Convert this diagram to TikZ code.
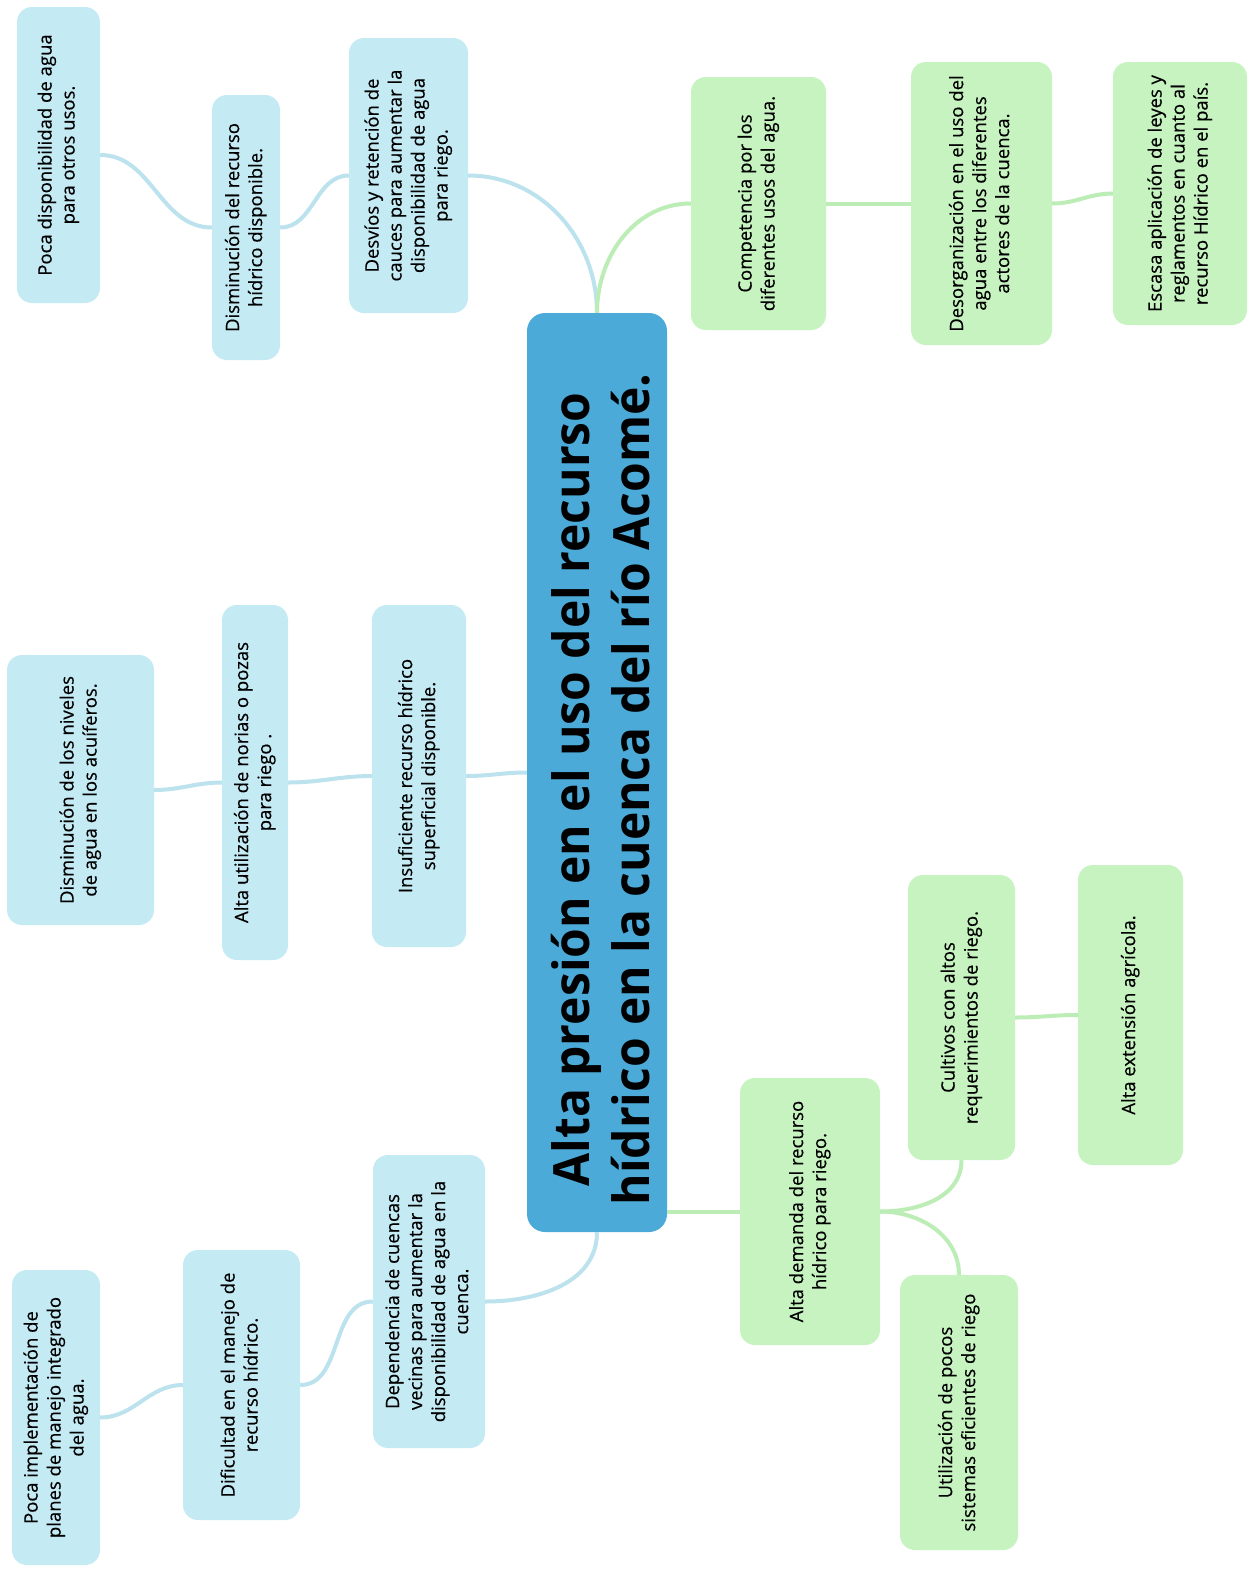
\documentclass[tikz,border=0pt]{standalone}
\usepackage{fontspec}
\setmainfont{Open Sans}
\newfontfamily\boxfont[FakeBold=0.4]{Open Sans}
\newfontfamily\titlefont[FakeStretch=0.96]{Open Sans}

\definecolor{boxblue}{HTML}{C4EAF4}
\definecolor{boxgreen}{HTML}{C6F3C0}
\definecolor{lineblue}{HTML}{BCE2EE}
\definecolor{linegreen}{HTML}{BDEDB6}
\definecolor{mainblue}{HTML}{4BAAD7}

\newcommand{\vtext}[1]{\rotatebox{90}{\begin{tabular}{@{}c@{}}#1\end{tabular}}}

\tikzset{
  boxsize/.style 2 args = {minimum width = #1pt, minimum height = #2pt},
  cause/.style  = {rounded corners = 15pt, inner sep = 0pt, fill = boxblue,
                   font = \boxfont\fontsize{18.5}{23}\selectfont},
  effect/.style = {cause, fill = boxgreen},
  blueline/.style  = {draw = lineblue, line width = 4pt},
  greenline/.style = {draw = linegreen, line width = 4pt},
}

\begin{document}
\begin{tikzpicture}[x = 1pt, y = 1pt]
  \fill[white] (0,0) rectangle (1252,-1572);
  \useasboundingbox (0,0) rectangle (1252,-1572);

  % problema central
  \node[fill = mainblue, rounded corners = 18pt, inner sep = 0pt, boxsize = {140}{919}] (C) at (597,-772.5) {};
  \node[inner sep = 0pt, font = \titlefont\bfseries\fontsize{50}{60}\selectfont,
        xshift = 10pt, yshift = -17pt] (Ctext) at (C)
    {\vtext{Alta presión en el uso del recurso\\hídrico en la cuenca del río Acomé.}};

  % causas
  \node[cause, boxsize = {83}{296}]  (B1) at (58.5,-155)   {\vtext{Poca disponibilidad de agua\\para otros usos.}};
  \node[cause, boxsize = {68}{265}]  (B2) at (246,-227.5)  {\vtext{Disminución del recurso\\hídrico disponible.}};
  \node[cause, boxsize = {119}{275}] (B3) at (408.5,-175.5) {\vtext{Desvíos y retención de\\cauces para aumentar la\\disponibilidad de agua\\para riego.}};
  \node[cause, boxsize = {147}{270}] (B4) at (80.5,-790)   {\vtext{Disminución de los niveles\\de agua en los acuíferos.}};
  \node[cause, boxsize = {66}{355}]  (B5) at (255,-782.5)  {\vtext{Alta utilización de norias o pozas\\para riego .}};
  \node[cause, boxsize = {94}{342}]  (B6) at (419,-776)    {\vtext{Insuficiente recurso hídrico\\superficial disponible.}};
  \node[cause, boxsize = {88}{295}]  (B7) at (56,-1417.5)  {\vtext{Poca implementación de\\planes de manejo integrado\\del agua.}};
  \node[cause, boxsize = {117}{270}] (B8) at (241.5,-1385) {\vtext{Dificultad en el manejo de\\recurso hídrico.}};
  \node[cause, boxsize = {112}{293}] (B9) at (429,-1301.5) {\vtext{Dependencia de cuencas\\vecinas para aumentar la\\disponibilidad de agua en la\\cuenca.}};

  % efectos
  \node[effect, boxsize = {135}{253}] (G1) at (758.5,-203.5) {\vtext{Competencia por los\\diferentes usos del agua.}};
  \node[effect, boxsize = {141}{283}] (G2) at (981.5,-203.5) {\vtext{Desorganización en el uso del\\agua entre los diferentes\\actores de la cuenca.}};
  \node[effect, boxsize = {134}{263}] (G3) at (1180,-193.5)  {\vtext{Escasa aplicación de leyes y\\reglamentos en cuanto al\\recurso Hídrico en el país.}};
  \node[effect, boxsize = {140}{267}] (G4) at (810,-1211.5)  {\vtext{Alta demanda del recurso\\hídrico para riego.}};
  \node[effect, boxsize = {107}{285}] (G5) at (961.5,-1017.5) {\vtext{Cultivos con altos\\requerimientos de riego.}};
  \node[effect, boxsize = {105}{300}] (G6) at (1130.5,-1015) {\vtext{Alta extensión agrícola.}};
  \node[effect, boxsize = {118}{275}] (G7) at (959,-1412.5)  {\vtext{Utilización de pocos\\sistemas eficientes de riego}};

  % conectores
  \draw[blueline] (C.north) to[out=90, in=0] (B3.east);
  \draw[blueline] (B3.west) to[out=180, in=0] (B2.east);
  \draw[blueline] (B2.west) to[out=180, in=0] (B1.east);
  \draw[blueline] (C.west) to[out=180, in=0] (B6.east);
  \draw[blueline] (B6.west) to[out=180, in=0] (B5.east);
  \draw[blueline] (B5.west) to[out=180, in=0] (B4.east);
  \draw[blueline] (C.south) to[out=-90, in=0] (B9.east);
  \draw[blueline] (B9.west) to[out=180, in=0] (B8.east);
  \draw[blueline] (B8.west) to[out=180, in=0] (B7.east);
  \draw[greenline] (C.north) to[out=90, in=180] (G1.west);
  \draw[greenline] (G1.east) to[out=0, in=180] (G2.west);
  \draw[greenline] (G2.east) to[out=0, in=180] (G3.west);
  \draw[greenline] (C.east |- G4.west) to[out=0, in=180] (G4.west);
  \draw[greenline] (G4.east) to[out=0, in=-90] (G5.south);
  \draw[greenline] (G4.east) to[out=0, in=90] (G7.north);
  \draw[greenline] (G5.east) to[out=0, in=180] (G6.west);
\end{tikzpicture}
\end{document}
